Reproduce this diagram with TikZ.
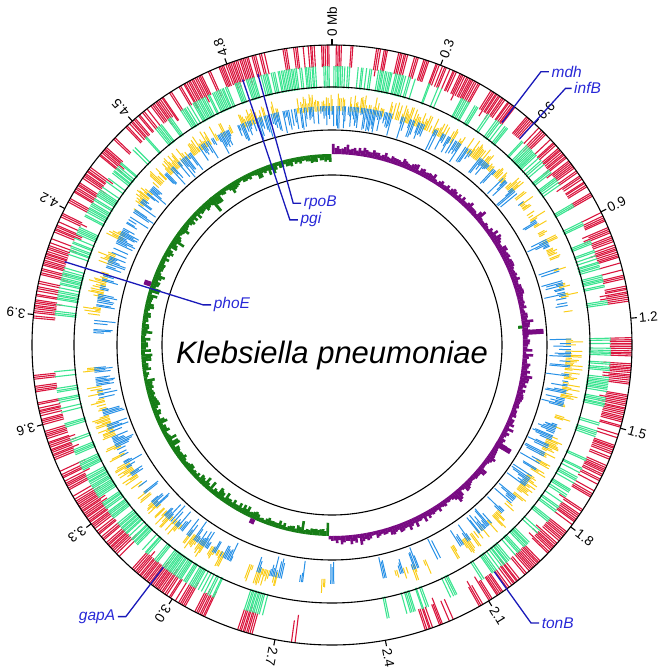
\documentclass[tikz,border=0pt]{standalone}
\usepackage{fontspec}
\setmainfont{Liberation Sans}
\usetikzlibrary{positioning}

\definecolor{cdsfwd}{RGB}{218,22,62}
\definecolor{cdsrev}{RGB}{60,228,145}
\definecolor{trnay}{RGB}{250,205,25}
\definecolor{trnab}{RGB}{40,145,230}
\definecolor{skewpos}{RGB}{120,10,130}
\definecolor{skewneg}{RGB}{22,125,22}
\definecolor{genemark}{RGB}{25,25,185}
\definecolor{genetext}{RGB}{40,40,215}

\newcommand{\gsize}{5.09}
% densities per 0.1 Mb
\newcommand{\reddens}{{.5,.5,.6,.7,.6,.6,.5,.7,.4,.6,.6,.4,.8,.6,.7,.4,.5,.6,.5,.7,.7,.15,.3,.2,0,0,.12,.5,0,.7,.5,.5,.6,.7,.6,.6,.5,.25,.2,.6,.6,.6,.6,.4,.5,.7,.6,.6,.7,.4,.6}}
\newcommand{\grndens}{{.6,.6,.5,.4,.5,.6,.7,.6,.4,.3,.6,.5,.7,.6,.6,.4,.5,.6,.4,.7,.5,.2,.3,.15,0,0,.05,.5,.03,.6,.6,.6,.6,.7,.5,.6,.6,.15,.2,.6,.5,.7,.7,.3,.4,.6,.7,.7,.6,.7,.7}}
\newcommand{\ylwdens}{{.5,.5,.5,.6,.5,.4,.4,.5,.3,.3,.4,.4,.6,.6,.5,.4,.5,.5,.3,.4,.4,.1,.25,.15,0,.08,.1,.4,.03,.4,.4,.5,.5,.6,.5,.5,.5,.2,.2,.4,.4,.5,.4,.3,.4,.6,.6,.5,.4,.4,.5}}
\newcommand{\bludens}{{.7,.6,.5,.5,.5,.4,.4,.3,.3,.2,.3,.4,.5,.5,.5,.4,.4,.4,.3,.4,.4,.1,.25,.15,0,.05,.1,.4,0,.4,.4,.5,.4,.4,.4,.4,.4,.2,.2,.4,.4,.4,.3,.2,.3,.5,.5,.6,.6,.6,.7}}

\begin{document}
\begin{tikzpicture}[x=1pt,y=1pt,
  ring/.style={black,line width=1.1pt},
  gene/.style={font=\itshape\fontsize{15.5}{16}\selectfont,text=genetext,inner sep=2.5pt},
  geneline/.style={genemark,line width=1.3pt},
  ticklabel/.style={font=\fontsize{13.5}{14}\selectfont,inner sep=1pt,anchor=west}]
  \useasboundingbox (-332,-327) rectangle (332,345);
  \pgfmathsetseed{12}

  %gene and nucleotide tracks, genes come in clusters
  \foreach \i in {0,...,1017}{
    \pgfmathsetmacro{\p}{(\i+0.5)*0.005}
    \pgfmathsetmacro{\a}{90-\p*360/\gsize+0.15*rnd}
    \pgfmathtruncatemacro{\b}{\p*10}
    \pgfmathtruncatemacro{\gap}{(\p>1.16)*(\p<1.25)+(\p>3.745)*(\p<3.86)}
    \pgfmathtruncatemacro{\blk}{mod(\i,3)}
    \ifnum\blk=0
      \pgfmathtruncatemacro{\cr}{rnd<1.2*\reddens[\b]}\xdef\clred{\cr}
      \pgfmathtruncatemacro{\cg}{rnd<1.2*\grndens[\b]}\xdef\clgrn{\cg}
      \pgfmathtruncatemacro{\cy}{rnd<1.5*\ylwdens[\b]}\xdef\clylw{\cy}
      \pgfmathtruncatemacro{\cb}{rnd<1.5*\bludens[\b]}\xdef\clblu{\cb}
    \fi
    \pgfmathtruncatemacro{\hr}{\clred*(rnd<0.85)*(1-\gap)}
    \pgfmathtruncatemacro{\hg}{\clgrn*(rnd<0.85)*(1-\gap)}
    \pgfmathtruncatemacro{\hy}{\clylw*(rnd<0.85)*(1-\gap)}
    \pgfmathtruncatemacro{\hb}{\clblu*(rnd<0.85)*(1-\gap)}
    \pgfmathsetmacro{\rr}{278-6*(rnd<0.12)}
    \pgfmathsetmacro{\ry}{239+13*rnd}
    \pgfmathsetmacro{\rb}{234-18*rnd}
    \ifnum\hr=1 \draw[cdsfwd,line width=1.1pt] (\a:\rr) -- (\a:300); \fi
    \ifnum\hg=1 \draw[cdsrev,line width=1.1pt] (\a:257) -- (\a:279); \fi
    \ifnum\hy=1 \draw[trnay,line width=1pt] (\a:234) -- (\a:\ry); \fi
    \ifnum\hb=1 \draw[trnab,line width=1pt] (\a:239) -- (\a:\rb); \fi
  }

  %gc skew
  \foreach \i in {0,...,508}{
    \pgfmathsetmacro{\p}{(\i+0.5)*0.01}
    \pgfmathsetmacro{\a}{90-\p*360/\gsize}
    \pgfmathtruncatemacro{\up}{\p<2.56}
    \ifnum\up=1
      \pgfmathsetmacro{\rs}{191+3+8*rnd*rnd+3*rnd}
      \draw[skewpos,line width=2.6pt] (\a:191) -- (\a:\rs);
    \else
      \pgfmathsetmacro{\rs}{191-3-8*rnd*rnd-3*rnd}
      \draw[skewneg,line width=2.6pt] (\a:191) -- (\a:\rs);
    \fi
  }
  \foreach \p/\rs in {1.22/212,1.71/208,4.08/198,2.89/196}
    \draw[skewpos,line width=5pt] ({90-\p*360/\gsize}:191) -- ({90-\p*360/\gsize}:\rs);
  \foreach \p/\rs in {4.53/174,3.07/180,1.196/187}
    \draw[skewneg,line width=3pt] ({90-\p*360/\gsize}:191) -- ({90-\p*360/\gsize}:\rs);

  %rings
  \draw[ring] (0,0) circle (300);
  \draw[ring] (0,0) circle (258);
  \draw[ring] (0,0) circle (215);
  \draw[ring] (0,0) circle (170);

  %scale in Mb
  \foreach \t/\lab [count=\k] in {0/0 Mb,0.3/0.3,0.6/0.6,0.9/0.9,1.2/1.2,1.5/1.5,1.8/1.8,2.1/2.1,2.4/2.4,2.7/2.7,3.0/3.0,3.3/3.3,3.6/3.6,3.9/3.9,4.2/4.2,4.5/4.5,4.8/4.8}{
    \pgfmathsetmacro{\a}{90-\t*360/\gsize}
    \draw[line width=1.1pt] (\a:300) -- (\a:306);
    \node[ticklabel,rotate=\a] (tick\k) at (\a:307) {\lab};
  }

  \node[font=\itshape\fontsize{31}{32}\selectfont,anchor=base] (title) at (0,-18) {Klebsiella pneumoniae};

  %marker genes
  \coordinate (mdh-a) at (52.6:280);   \coordinate (mdh-b) at (52.6:344);
  \coordinate (infB-a) at (47.7:279);  \coordinate (infB-b) at (47.7:347);
  \coordinate (rpoB-a) at (105.3:281); \coordinate (rpoB-b) at (105.3:147);
  \coordinate (pgi-a) at (108.6:280);  \coordinate (pgi-b) at (108.6:132);
  \coordinate (phoE-a) at (162.7:280); \coordinate (phoE-b) at (162.7:135);
  \coordinate (gapA-a) at (-127.2:279); \coordinate (gapA-b) at (-127.2:341);
  \coordinate (tonB-a) at (-54.4:279); \coordinate (tonB-b) at (-54.4:342);

  \node[gene,right=8pt of mdh-b] (mdh) {mdh};
  \node[gene,right=6pt of infB-b] (infB) {infB};
  \node[gene,right=8pt of rpoB-b] (rpoB) {rpoB};
  \node[gene,right=8pt of pgi-b] (pgi) {pgi};
  \node[gene,right=8pt of phoE-b] (phoE) {phoE};
  \node[gene,left=8pt of gapA-b] (gapA) {gapA};
  \node[gene,right=8pt of tonB-b] (tonB) {tonB};

  \draw[geneline] (mdh-a) -- (mdh-b) -- (mdh.west);
  \draw[geneline] (infB-a) -- (infB-b) -- (infB.west);
  \draw[geneline] (rpoB-a) -- (rpoB-b) -- (rpoB.west);
  \draw[geneline] (pgi-a) -- (pgi-b) -- (pgi.west);
  \draw[geneline] (phoE-a) -- (phoE-b) -- (phoE.west);
  \draw[geneline] (gapA-a) -- (gapA-b) -- (gapA.east);
  \draw[geneline] (tonB-a) -- (tonB-b) -- (tonB.west);
\end{tikzpicture}
\end{document}
